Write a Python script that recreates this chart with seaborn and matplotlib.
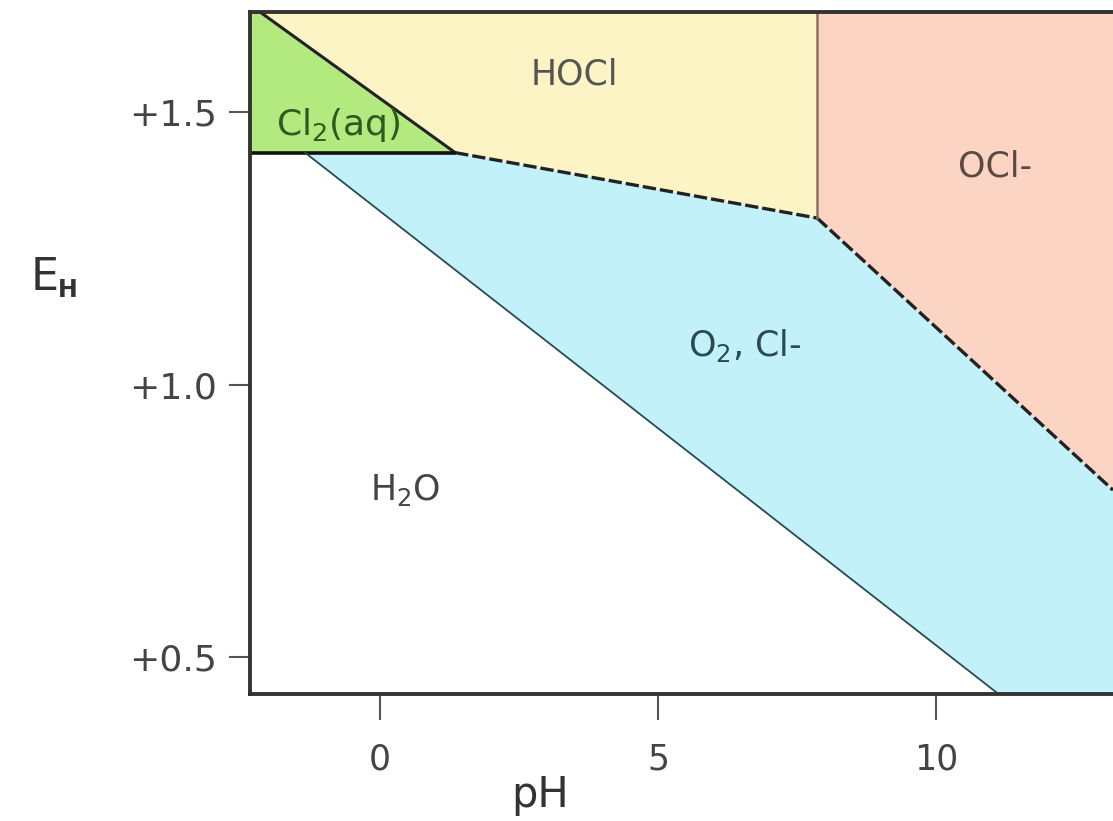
import numpy as np
import pandas as pd
import matplotlib
matplotlib.use("Agg")
import matplotlib.pyplot as plt
import seaborn as sns

# Pourbaix diagram for chlorine (schematic)
ph_lim = (-2.34, 13.18)
e_lim = (0.433, 1.684)

# region outlines (pH, E)
cl2_ph = [-2.34, -2.16, 1.35, -2.34]
cl2_e = [1.684, 1.684, 1.426, 1.426]
hocl_ph = [-2.16, 1.35, 7.86, 7.86]
hocl_e = [1.684, 1.426, 1.306, 1.684]
ocl_ph = [7.86, 7.86, 13.18, 13.18]
ocl_e = [1.684, 1.306, 0.807, 1.684]
o2_ph = [-1.35, 1.35, 7.86, 13.18, 13.18, 11.12]
o2_e = [1.426, 1.426, 1.306, 0.807, 0.433, 0.433]

# boundary lines
cl2_top_ph = [-2.16, 1.35]
cl2_top_e = [1.684, 1.426]
cl2_bottom_ph = [-2.34, 1.35]
cl2_bottom_e = [1.426, 1.426]
hocl_o2_ph = [1.35, 7.86]
hocl_o2_e = [1.426, 1.306]
ocl_o2_ph = [7.86, 13.18]
ocl_o2_e = [1.306, 0.807]
pka_ph = [7.86, 7.86]
pka_e = [1.306, 1.684]
water_ph = [-1.35, 11.12]
water_e = [1.426, 0.433]

labels = ["HOCl", "OCl-", "Cl$_2$(aq)", "O$_2$, Cl-", "H$_2$O"]
label_ph = [3.5, 11.06, -0.75, 6.56, 0.45]
label_e = [1.569, 1.40, 1.477, 1.073, 0.807]
label_colors = ["#555555", "#5a4a42", "#2f5a1f", "#2a4a50", "#444444"]
label_sizes = [25, 25, 26, 25, 25]

sns.set_style("ticks")
plt.rcParams["font.family"] = ["DejaVu Sans"]

fig = plt.figure(figsize=(11.13, 8.21), dpi=100)
ax = fig.add_axes([0.2246, 0.1547, 0.7754, 0.8307])

ax.fill(cl2_ph, cl2_e, color="#b2ea80", lw=0)
ax.fill(hocl_ph, hocl_e, color="#fcf4c4", lw=0)
ax.fill(ocl_ph, ocl_e, color="#fbd4c4", lw=0)
ax.fill(o2_ph, o2_e, color="#c2f1f9", lw=0)

def boundary(xs, ys, **kw):
    d = pd.DataFrame({"pH": xs, "E": ys})
    sns.lineplot(data=d, x="pH", y="E", ax=ax, sort=False, estimator=None, **kw)

boundary(cl2_top_ph, cl2_top_e, color="#222222", lw=2.2)
boundary(cl2_bottom_ph, cl2_bottom_e, color="#111111", lw=2.6)
boundary(hocl_o2_ph, hocl_o2_e, color="#222222", lw=2.4, linestyle=(0, (4, 1.2)))
boundary(ocl_o2_ph, ocl_o2_e, color="#222222", lw=2.4, linestyle=(0, (4, 1.2)))
boundary(pka_ph, pka_e, color="#8a7264", lw=1.8)
boundary(water_ph, water_e, color="#2a4a50", lw=1.3)

for t, x, y, c, s in zip(labels, label_ph, label_e, label_colors, label_sizes):
    ax.text(x, y, t, ha="center", va="center", fontsize=s, color=c)

ax.set_xlim(*ph_lim)
ax.set_ylim(*e_lim)
ax.set_xticks([0, 5, 10])
ax.set_xticklabels(["0", "5", "10"])
ax.set_yticks([0.5, 1.0, 1.5])
ax.set_yticklabels(["+0.5", "+1.0", "+1.5"])
ax.tick_params(axis="x", length=19, width=1.5, color="#555555", pad=16,
               labelsize=25, labelcolor="#444444")
ax.tick_params(axis="y", length=15, width=1.5, color="#555555", pad=9,
               labelsize=26, labelcolor="#444444")
ax.set_xlabel("")
ax.set_ylabel("")

for s in ["left", "top", "bottom"]:
    ax.spines[s].set_linewidth(2.8)
    ax.spines[s].set_color("#333333")
ax.spines["right"].set_visible(False)

fig.text(540 / 1113, 1 - 795 / 821, "pH", ha="center", va="center",
         fontsize=30, color="#333333")
fig.text(45 / 1113, 1 - 278 / 821, "E", ha="center", va="center",
         fontsize=32, color="#333333")
fig.text(68 / 1113, 1 - 290 / 821, "H", ha="center", va="center",
         fontsize=17, color="#333333", fontweight="bold")

fig.savefig("out.png", dpi=100)
